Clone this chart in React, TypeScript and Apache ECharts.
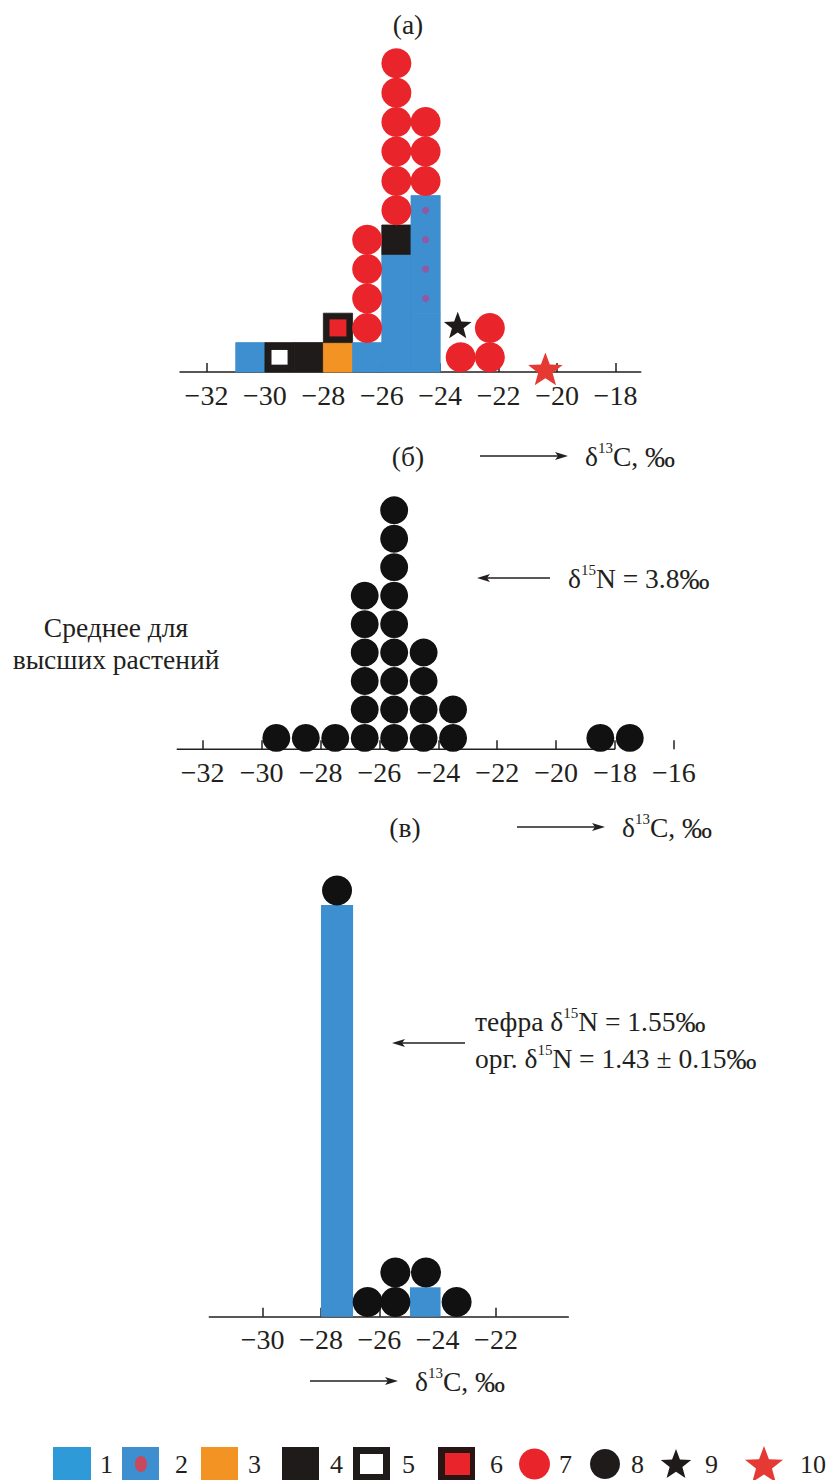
import React, { useEffect, useRef } from 'react';
import * as echarts from 'echarts';

const FONT = "'Liberation Serif', 'Times New Roman', serif";
const INK = '#231f20';
const BLUE = '#3d8fcf';
const LBLUE = '#2e9ad8';
const DOT = '#a0509c';
const ORANGE = '#f39323';
const BLACK = '#1f1b1b';
const RED = '#e9242b';

// ---- Panel (а): δ13C distribution, coloured by sample type
const aTicks = [-32, -30, -28, -26, -24, -22, -20, -18];
// square blocks: [bin centre, bottom row, top row, legend type]
const aBlocks = [
  [-30.5, 0, 1, 1],
  [-29.5, 0, 1, 5],
  [-28.5, 0, 1, 4],
  [-27.5, 0, 1, 3],
  [-27.5, 1, 2, 6],
  [-26.5, 0, 1, 1],
  [-25.5, 0, 4, 1],
  [-25.5, 4, 5, 4],
  [-24.5, 0, 2, 1],
  [-24.5, 2, 6, 2],
];
// red circles (type 7): [bin centre, row]
const aCircles = [
  [-26.5, 2], [-26.5, 3], [-26.5, 4], [-26.5, 5],
  [-25.5, 6], [-25.5, 7], [-25.5, 8], [-25.5, 9], [-25.5, 10], [-25.5, 11],
  [-24.5, 7], [-24.5, 8], [-24.5, 9],
  [-23.3, 1],
  [-22.3, 1], [-22.3, 2],
];
// stars: [δ13C, height (rows), type]
const aStars = [
  [-23.4, 1.55, 9],
  [-20.4, 0.05, 10],
];

// ---- Panel (б): higher plants
const bTicks = [-32, -30, -28, -26, -24, -22, -20, -18, -16];
const bBins = [-29.5, -28.5, -27.5, -26.5, -25.5, -24.5, -23.5, -18.5, -17.5];
const bCounts = [1, 1, 1, 6, 9, 4, 2, 1, 1];

// ---- Panel (в)
const cTicks = [-30, -28, -26, -24, -22];
// blue bars: [x from, x to, rows]
const cBars = [
  [-28, -26.9, 14],
  [-24.95, -23.9, 1],
];
// black circles: [centre, row]
const cCircles = [
  [-27.45, 15],
  [-26.4, 1], [-25.45, 1], [-25.45, 2], [-24.4, 2], [-23.35, 1],
];

const bCircles: number[][] = [];
bBins.forEach((b, i) => {
  for (let k = 1; k <= bCounts[i]; k++) bCircles.push([b, k]);
});

function starPoints(cx: number, cy: number, R: number, ratio: number) {
  const pts: number[][] = [];
  for (let i = 0; i < 10; i++) {
    const ang = -Math.PI / 2 + (i * Math.PI) / 5;
    const rr = i % 2 === 0 ? R : R * ratio;
    pts.push([cx + rr * Math.cos(ang), cy + rr * Math.sin(ang)]);
  }
  return pts;
}

const TYPE_FILL: Record<number, string> = { 1: BLUE, 2: BLUE, 3: ORANGE, 4: BLACK, 5: BLACK, 6: BLACK };

function blockItem(params: any, api: any) {
  const xc = api.value(0), y0 = api.value(1), y1 = api.value(2), t = api.value(3);
  const bl = api.coord([xc - 0.5, y0]);
  const tr = api.coord([xc + 0.5, y1]);
  const x = bl[0], y = tr[1], w = tr[0] - bl[0], h = bl[1] - tr[1];
  const fill = TYPE_FILL[t];
  const children: any[] = [
    { type: 'rect', shape: { x, y, width: w, height: h }, style: { fill, stroke: fill, lineWidth: 0.8 } },
  ];
  if (t === 5) {
    const iw = w * 0.55, ih = h * 0.5;
    children.push({ type: 'rect', shape: { x: x + (w - iw) / 2, y: y + (h - ih) / 2, width: iw, height: ih }, style: { fill: '#fff' } });
  }
  if (t === 6) {
    const iw = w * 0.58, ih = h * 0.58;
    children.push({ type: 'rect', shape: { x: x + (w - iw) / 2, y: y + (h - ih) / 2, width: iw, height: ih }, style: { fill: RED } });
  }
  if (t === 2) {
    for (let r = y0; r < y1; r++) {
      const c = api.coord([xc, r + 0.5]);
      children.push({ type: 'circle', shape: { cx: c[0], cy: c[1], r: 3.6 }, style: { fill: DOT, opacity: 0.85 } });
    }
  }
  return { type: 'group', children };
}

function circleItem(factor: number, color: string) {
  return (params: any, api: any) => {
    const c = api.coord([api.value(0), api.value(1) - 0.5]);
    const s = api.size([1, 1]);
    const r = Math.min(s[0], s[1]) * factor;
    return { type: 'circle', shape: { cx: c[0], cy: c[1], r }, style: { fill: color } };
  };
}

function starItem(params: any, api: any) {
  const t = api.value(2);
  const c = api.coord([api.value(0), api.value(1)]);
  const s = api.size([1, 1]);
  const R = s[0] * (t === 9 ? 0.5 : 0.62);
  return {
    type: 'polygon',
    shape: { points: starPoints(c[0], c[1], R, 0.42) },
    style: { fill: t === 9 ? BLACK : '#e43a33' },
  };
}

function barItem(params: any, api: any) {
  const p0 = api.coord([api.value(0), 0]);
  const p1 = api.coord([api.value(1), api.value(2)]);
  return {
    type: 'rect',
    shape: { x: p0[0], y: p1[1], width: p1[0] - p0[0], height: p0[1] - p1[1] },
    style: { fill: BLUE },
  };
}

function xAxis(gridIndex: number, min: number, max: number, ticks: number[], showLine: boolean) {
  return {
    type: 'value',
    gridIndex,
    min,
    max,
    axisLine: { show: showLine, onZero: false, lineStyle: { color: INK, width: 1.5 } },
    axisTick: { show: true, inside: true, length: 9, customValues: ticks, lineStyle: { color: INK, width: 1.5 } },
    axisLabel: {
      customValues: ticks,
      formatter: (v: number) => '\u2212' + Math.abs(v),
      fontSize: 28,
      fontFamily: FONT,
      color: INK,
      margin: 9,
    },
    splitLine: { show: false },
  };
}

const TS = 27.5;
const rich = {
  n: { fontSize: TS, fontFamily: FONT, fill: INK, lineHeight: 31 },
  p: { fontSize: 30, fontFamily: FONT, fill: INK, lineHeight: 31 },
  s: { fontSize: 15, fontFamily: FONT, fill: INK, lineHeight: 15, verticalAlign: 'top' },
};

function text(x: number, y: number, t: string, align = 'left', size = TS) {
  return {
    type: 'text',
    x,
    y,
    silent: true,
    style: {
      text: t,
      rich,
      fontSize: size,
      fontFamily: FONT,
      fill: INK,
      align,
      verticalAlign: 'middle',
    },
  };
}

function arrow(x1: number, x2: number, y: number) {
  // arrow from x1 to x2 (head at x2)
  const dir = x2 > x1 ? 1 : -1;
  return [
    { type: 'line', silent: true, shape: { x1, y1: y, x2: x2 - dir * 6, y2: y }, style: { stroke: INK, lineWidth: 1.3 } },
    {
      type: 'polygon',
      silent: true,
      shape: { points: [[x2, y], [x2 - dir * 13, y - 4], [x2 - dir * 10, y], [x2 - dir * 13, y + 4]] },
      style: { fill: INK },
    },
  ];
}

function legend() {
  const els: any[] = [];
  const top = 1447, h = 34;
  const sq = (x: number, w: number, fill: string) =>
    els.push({ type: 'rect', silent: true, shape: { x, y: top, width: w, height: h }, style: { fill } });
  sq(53, 38, LBLUE);
  sq(122, 37, BLUE);
  els.push({ type: 'ellipse', silent: true, shape: { cx: 141, cy: 1464, rx: 6, ry: 8 }, style: { fill: '#c8485c' } });
  sq(201, 37, ORANGE);
  sq(282, 37, BLACK);
  sq(353, 37, BLACK);
  els.push({ type: 'rect', silent: true, shape: { x: 360, y: 1454, width: 23, height: 20 }, style: { fill: '#fff' } });
  sq(438, 37, '#2a1515');
  els.push({ type: 'rect', silent: true, shape: { x: 445, y: 1453, width: 25, height: 22 }, style: { fill: RED } });
  els.push({ type: 'circle', silent: true, shape: { cx: 534.5, cy: 1464, r: 15.5 }, style: { fill: RED } });
  els.push({ type: 'circle', silent: true, shape: { cx: 605, cy: 1464, r: 15 }, style: { fill: BLACK } });
  els.push({ type: 'polygon', silent: true, shape: { points: starPoints(676, 1465, 16, 0.42) }, style: { fill: BLACK } });
  els.push({ type: 'polygon', silent: true, shape: { points: starPoints(764, 1466, 20, 0.42) }, style: { fill: '#e43a33' } });
  const labels: [number, string][] = [
    [100, '1'], [175, '2'], [248, '3'], [330, '4'], [402, '5'],
    [490, '6'], [559, '7'], [631, '8'], [705, '9'], [800, '10'],
  ];
  labels.forEach(([x, t]) => els.push(text(x, 1464, t, 'left', 26)));
  return els;
}

export default function App() {
  const ref = useRef<HTMLDivElement>(null);
  useEffect(() => {
    if (!ref.current) return;
    const chart = echarts.init(ref.current, undefined, { renderer: 'svg' });
    const option: any = {
      animation: false,
      backgroundColor: '#fff',
      textStyle: { fontFamily: FONT },
      grid: [
        { left: 180, top: 19.2, width: 460.7, height: 352.8 },
        { left: 176.7, top: 464.7, width: 512, height: 284.6 },
        { left: 209.3, top: 846.3, width: 359, height: 470.4 },
      ],
      xAxis: [
        xAxis(0, -32.907, -17.137, aTicks, true),
        xAxis(1, -32.883, -15.5, bTicks, false),
        xAxis(2, -31.83, -19.52, cTicks, true),
      ],
      yAxis: [
        { type: 'value', gridIndex: 0, min: 0, max: 12, show: false },
        { type: 'value', gridIndex: 1, min: 0.1, max: 10.1, show: false },
        { type: 'value', gridIndex: 2, min: 0, max: 16, show: false },
      ],
      series: [
        { type: 'custom', xAxisIndex: 0, yAxisIndex: 0, data: aBlocks, renderItem: blockItem, z: 2, silent: true },
        { type: 'custom', xAxisIndex: 0, yAxisIndex: 0, data: aCircles, renderItem: circleItem(0.513, RED), z: 3, silent: true },
        { type: 'custom', xAxisIndex: 0, yAxisIndex: 0, data: aStars, renderItem: starItem, z: 4, silent: true },
        {
          type: 'line', xAxisIndex: 1, yAxisIndex: 1, data: [[-32.883, 0.1], [-18, 0.1]],
          symbol: 'none', lineStyle: { color: INK, width: 1.5 }, z: 1, silent: true,
        },
        { type: 'custom', xAxisIndex: 1, yAxisIndex: 1, data: bCircles, renderItem: circleItem(0.49, '#111'), z: 3, silent: true },
        { type: 'custom', xAxisIndex: 2, yAxisIndex: 2, data: cBars, renderItem: barItem, z: 2, silent: true },
        { type: 'custom', xAxisIndex: 2, yAxisIndex: 2, data: cCircles, renderItem: circleItem(0.515, '#111'), z: 3, silent: true },
      ],
      graphic: [
        text(408, 24, '(а)', 'center'),
        text(408, 456, '(б)', 'center'),
        ...arrow(480, 568, 456),
        text(585, 456, '{n|δ}{s|13}{n|C, }{p|‰}'),
        ...arrow(550, 477, 578),
        text(568, 578, '{n|δ}{s|15}{n|N = 3.8}{p|‰}'),
        text(116, 627, 'Среднее для', 'center'),
        text(116, 659, 'высших растений', 'center'),
        text(405, 827, '(в)', 'center'),
        ...arrow(517, 605, 827),
        text(622, 827, '{n|δ}{s|13}{n|C, }{p|‰}'),
        text(475, 1021, '{n|тефра δ}{s|15}{n|N = 1.55}{p|‰}'),
        text(475, 1058, '{n|орг. δ}{s|15}{n|N = 1.43 ± 0.15}{p|‰}'),
        ...arrow(465, 392, 1043),
        ...arrow(310, 398, 1381),
        text(415, 1381, '{n|δ}{s|13}{n|C, }{p|‰}'),
        ...legend(),
      ],
    };
    chart.setOption(option);
    return () => chart.dispose();
  }, []);
  return <div ref={ref} style={{ position: 'absolute', left: 0, top: 0, width: 827, height: 1480 }} />;
}
